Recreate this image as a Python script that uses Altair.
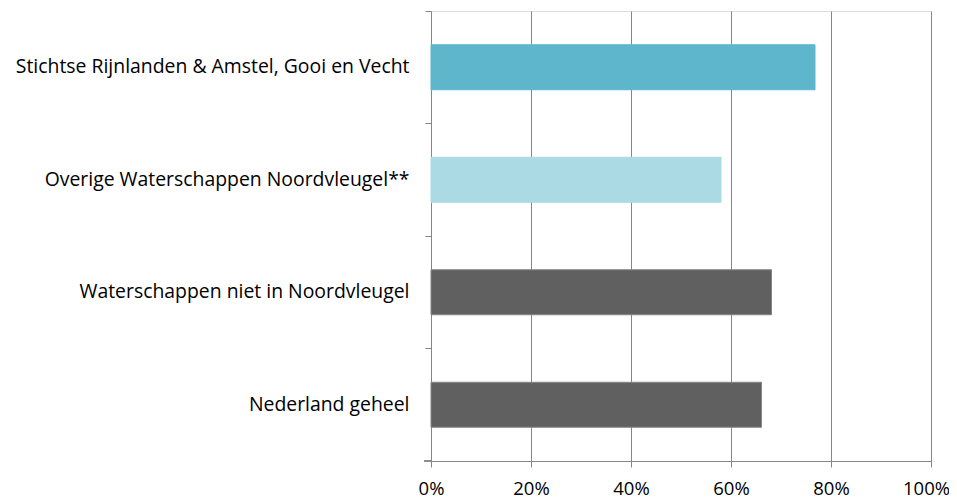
import altair as alt
import pandas as pd

categories = [
    "Stichtse Rijnlanden & Amstel, Gooi en Vecht",
    "Overige Waterschappen Noordvleugel**",
    "Waterschappen niet in Noordvleugel",
    "Nederland geheel",
]
values = [0.768, 0.58, 0.681, 0.661]
colors = ["#5EB6CC", "#ABD9E4", "#606060", "#606060"]
strokes = ["#5EB6CC", "#ABD9E4", "#858585", "#858585"]

df = pd.DataFrame({"cat": categories, "val": values, "col": colors, "stk": strokes})

FONT = "Open Sans"
AX = "#868686"

bars = alt.Chart(df).mark_bar(strokeWidth=1).encode(
    y=alt.Y("cat:N", sort=categories, title=None,
            scale=alt.Scale(paddingInner=0.6, paddingOuter=0.3),
            axis=alt.Axis(bandPosition=-0.75, ticks=True, tickSize=6, tickColor=AX,
                          domainColor=AX, labelPadding=16, labelFontSize=19.4,
                          labelFont=FONT, labelColor="#000000", labelLimit=600, grid=False)),
    x=alt.X("val:Q", title=None,
            scale=alt.Scale(domain=[0, 1]),
            axis=alt.Axis(format=".0%", values=[0, 0.2, 0.4, 0.6, 0.8, 1.0], tickSize=6,
                          tickColor=AX, domainColor=AX, gridColor=AX,
                          labelFontSize=18.5, labelFont=FONT, labelColor="#000000",
                          labelPadding=12, labelFlush=False,
                          labelOffset={"condition": {"test": "datum.value >= 1", "value": -5},
                                       "value": 0})),
    color=alt.Color("col:N", scale=None, legend=None),
    stroke=alt.Stroke("stk:N", scale=None, legend=None),
)

bottom_tick = alt.Chart(df).mark_rule(color=AX).encode(
    x=alt.value(-7), x2=alt.value(0), y=alt.value(450)
)

chart = alt.layer(bars, bottom_tick).properties(
    width=500, height=450,
    autosize=alt.AutoSizeParams(type="none"),
    padding={"left": 423, "top": 3, "right": 18, "bottom": 37},
).configure_view(stroke=None).configure(background="white")

chart.save("out.html", embed_options={"renderer": "svg", "actions": False})
